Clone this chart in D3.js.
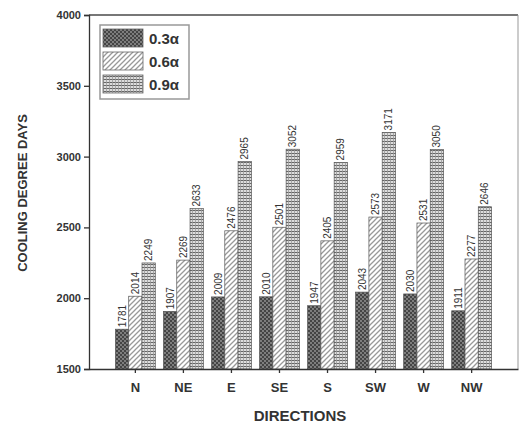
<!DOCTYPE html>
<html lang="en">
  <head>
    <meta charset="UTF-8" />
    <title>Cooling Degree Days</title>
    <script src="https://d3js.org/d3.v7.min.js"></script>
    <style>
      body {
        margin: 0;
        background: #fff;
      }
      svg {
        font-family: "Liberation Sans", Arial, sans-serif;
      }
      .tick text {
        font-weight: bold;
        fill: #333;
      }
    </style>
  </head>
  <body>
    <script>
      // data
      const directions = ["N", "NE", "E", "SE", "S", "SW", "W", "NW"];
      const seriesNames = ["0.3α", "0.6α", "0.9α"];
      const s03 = [1781, 1907, 2009, 2010, 1947, 2043, 2030, 1911];
      const s06 = [2014, 2269, 2476, 2501, 2405, 2573, 2531, 2277];
      const s09 = [2249, 2633, 2965, 3052, 2959, 3171, 3050, 2646];
      const yTicks = [1500, 2000, 2500, 3000, 3500, 4000];

      const series = [s03, s06, s09];
      const width = 521,
        height = 429;
      const margin = { top: 15, right: 3, bottom: 60, left: 89 };

      const svg = d3
        .select("body")
        .append("svg")
        .attr("width", width)
        .attr("height", height);

      // fill patterns
      const defs = svg.append("defs");
      const p1 = defs
        .append("pattern")
        .attr("id", "p03")
        .attr("patternUnits", "userSpaceOnUse")
        .attr("width", 4)
        .attr("height", 4);
      p1.append("rect").attr("width", 4).attr("height", 4).attr("fill", "#444");
      p1.append("circle").attr("cx", 1).attr("cy", 1).attr("r", 0.9).attr("fill", "#999");
      p1.append("circle").attr("cx", 3).attr("cy", 3).attr("r", 0.9).attr("fill", "#999");

      const p2 = defs
        .append("pattern")
        .attr("id", "p06")
        .attr("patternUnits", "userSpaceOnUse")
        .attr("width", 5)
        .attr("height", 5);
      p2.append("rect").attr("width", 5).attr("height", 5).attr("fill", "#fff");
      p2.append("path")
        .attr("d", "M-1,6 L6,-1 M-1,1 L1,-1 M4,6 L6,4")
        .attr("stroke", "#999")
        .attr("stroke-width", 1.3);

      const p3 = defs
        .append("pattern")
        .attr("id", "p09")
        .attr("patternUnits", "userSpaceOnUse")
        .attr("width", 3)
        .attr("height", 3);
      p3.append("rect").attr("width", 3).attr("height", 3).attr("fill", "#ddd");
      p3.append("path").attr("d", "M0,0.5 H3").attr("stroke", "#666").attr("stroke-width", 1);
      p3.append("path").attr("d", "M0.5,0 V3").attr("stroke", "#999").attr("stroke-width", 0.8);

      const fills = ["url(#p03)", "url(#p06)", "url(#p09)"];

      const x = d3
        .scaleBand()
        .domain(directions)
        .range([margin.left, width - margin.right])
        .paddingInner(0.17)
        .paddingOuter(0.55);
      const xs = d3
        .scaleBand()
        .domain(d3.range(3))
        .range([0, x.bandwidth()]);
      const y = d3
        .scaleLinear()
        .domain([1500, 4000])
        .range([height - margin.bottom, margin.top]);

      // bars
      series.forEach((vals, si) => {
        const g = svg.append("g");
        g.selectAll("rect")
          .data(vals)
          .join("rect")
          .attr("x", (d, i) => x(directions[i]) + xs(si))
          .attr("y", (d) => y(d))
          .attr("width", xs.bandwidth())
          .attr("height", (d) => y(1500) - y(d))
          .attr("fill", fills[si])
          .attr("stroke", "#555")
          .attr("stroke-width", 0.7);
        g.selectAll("text")
          .data(vals)
          .join("text")
          .attr(
            "transform",
            (d, i) =>
              `translate(${x(directions[i]) + xs(si) + xs.bandwidth() / 2 + 3.5},${y(d) - 2}) rotate(-90)`
          )
          .attr("font-size", 10)
          .attr("font-family", '"Liberation Sans Narrow", "Liberation Sans", sans-serif')
          .attr("fill", "#333")
          .text((d) => d);
      });

      // frame
      svg.append("line")
        .attr("x1", margin.left)
        .attr("x2", width - margin.right)
        .attr("y1", margin.top)
        .attr("y2", margin.top)
        .attr("stroke", "#777")
        .attr("stroke-width", 2);
      svg.append("line")
        .attr("x1", width - margin.right)
        .attr("x2", width - margin.right)
        .attr("y1", margin.top)
        .attr("y2", height - margin.bottom)
        .attr("stroke", "#999")
        .attr("stroke-width", 1);

      // axes
      const yAxis = svg
        .append("g")
        .attr("transform", `translate(${margin.left},0)`)
        .call(
          d3.axisLeft(y).tickValues(yTicks).tickFormat(d3.format("d")).tickSize(5).tickPadding(3)
        );
      yAxis.selectAll("text").attr("font-size", 11);
      yAxis.selectAll("path, line").attr("stroke", "#333").attr("stroke-width", 1.3);

      const xAxis = svg
        .append("g")
        .attr("transform", `translate(0,${height - margin.bottom})`)
        .call(d3.axisBottom(x).tickSize(4).tickPadding(10).tickSizeOuter(0));
      xAxis.selectAll("text").attr("font-size", 13);
      xAxis.selectAll("path, line").attr("stroke", "#333").attr("stroke-width", 1.3);

      // titles
      svg.append("text")
        .attr("x", 300)
        .attr("y", 421)
        .attr("text-anchor", "middle")
        .attr("font-size", 15)
        .attr("font-weight", "bold")
        .attr("fill", "#333")
        .text("DIRECTIONS");
      svg.append("text")
        .attr("transform", "translate(27,193) rotate(-90)")
        .attr("text-anchor", "middle")
        .attr("font-size", 13)
        .attr("font-weight", "bold")
        .attr("fill", "#333")
        .text("COOLING DEGREE DAYS");

      // legend
      const legend = svg.append("g").attr("transform", "translate(100,25)");
      legend.append("rect")
        .attr("width", 89)
        .attr("height", 74)
        .attr("fill", "#fff")
        .attr("stroke", "#999")
        .attr("stroke-width", 1.5);
      seriesNames.forEach((name, i) => {
        legend.append("rect")
          .attr("x", 3)
          .attr("y", 4 + i * 23)
          .attr("width", 40)
          .attr("height", 18)
          .attr("fill", fills[i])
          .attr("stroke", "#666")
          .attr("stroke-width", 0.8);
        legend.append("text")
          .attr("x", 49)
          .attr("y", 19 + i * 23)
          .attr("font-size", 15)
          .attr("font-weight", "bold")
          .attr("fill", "#333")
          .text(name);
      });
    </script>
  </body>
</html>
